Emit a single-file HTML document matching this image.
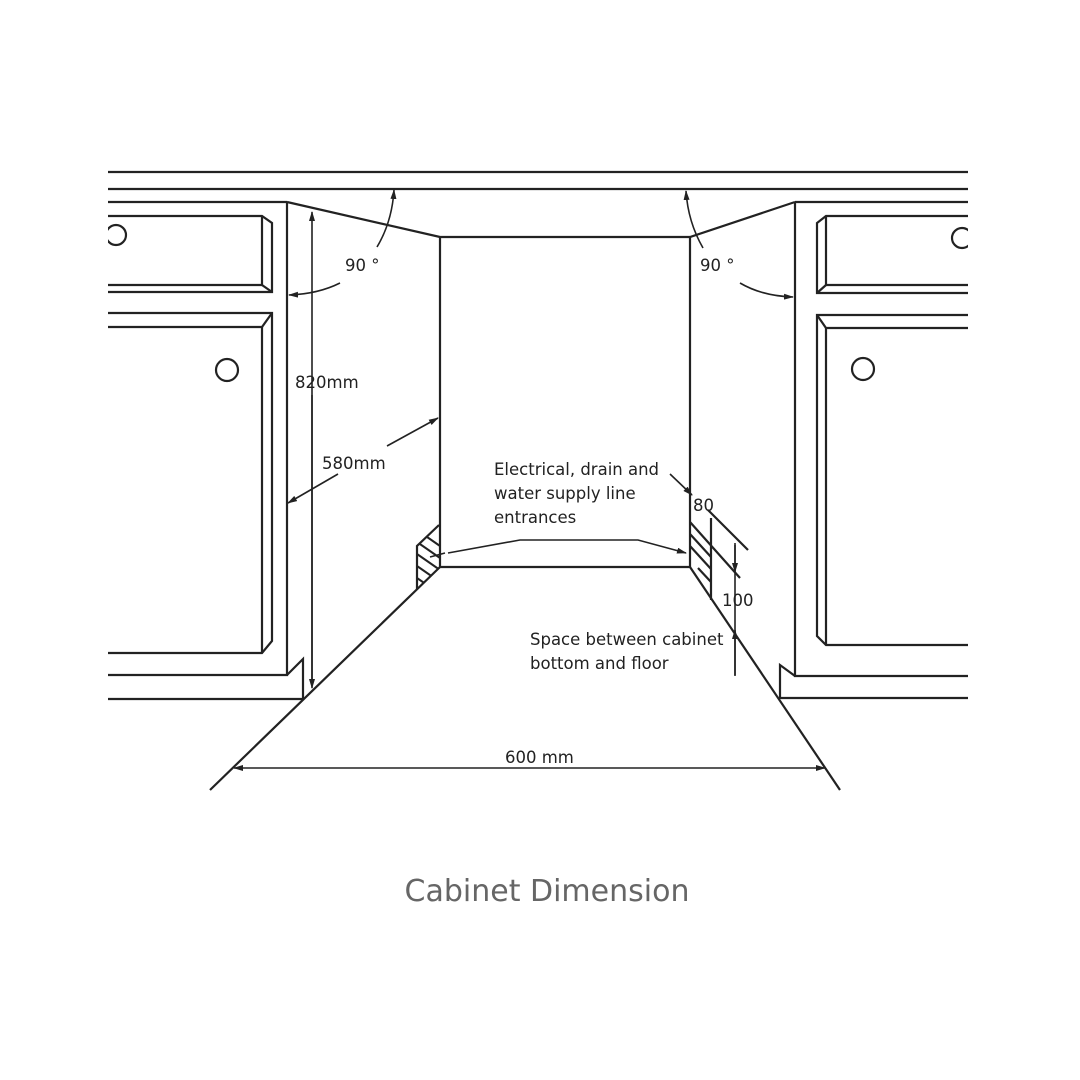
<!DOCTYPE html>
<html><head><meta charset="utf-8"><style>
html,body{margin:0;padding:0;background:#fff;}
svg{display:block}
text{font-family:"DejaVu Sans","Liberation Sans",sans-serif;fill:#222;}
</style></head><body>
<svg width="1080" height="1080" viewBox="0 0 1080 1080" xmlns="http://www.w3.org/2000/svg">
<defs>
<marker id="a" markerWidth="10" markerHeight="6" refX="9" refY="3" orient="auto" markerUnits="userSpaceOnUse"><path d="M0,0 L10,3 L0,6 z" fill="#222"/></marker>
<clipPath id="page"><rect x="108" y="0" width="860" height="1080"/></clipPath>
<clipPath id="hl"><polygon points="439,525 417,546 417,589 440,567"/></clipPath>
</defs>
<g stroke="#222" stroke-width="2.2" fill="none" stroke-linejoin="miter" clip-path="url(#page)">
<line x1="108" y1="172" x2="968" y2="172"/>
<line x1="108" y1="189" x2="968" y2="189"/>
<line x1="108" y1="202" x2="287" y2="202"/>
<line x1="795" y1="202" x2="968" y2="202"/>
<polyline points="287,202 287,675 108,675"/>
<polyline points="287,675 303,659 303,699 108,699"/>
<polyline points="795,202 795,676 968,676"/>
<polyline points="795,676 780,665 780,698 968,698"/>
<polyline points="287,202 440,237 690,237 795,202"/>
<line x1="440" y1="237" x2="440" y2="567"/>
<line x1="690" y1="237" x2="690" y2="567"/>
<line x1="440" y1="567" x2="690" y2="567"/>
<line x1="440" y1="567" x2="210" y2="790"/>
<line x1="690" y1="567" x2="840" y2="790"/>
<polyline points="108,216 262,216 272,223 272,292 108,292"/>
<polyline points="262,216 262,285 108,285"/>
<line x1="262" y1="285" x2="272" y2="292"/>
<circle cx="116" cy="235" r="10"/>
<polyline points="108,313 272,313 272,641 262,653 108,653"/>
<polyline points="272,313 262,327 108,327"/>
<line x1="262" y1="327" x2="262" y2="653"/>
<circle cx="227" cy="370" r="11"/>
<polyline points="968,216 826,216 817,223 817,293 968,293"/>
<polyline points="826,216 826,285 968,285"/>
<line x1="826" y1="285" x2="817" y2="293"/>
<circle cx="962" cy="238" r="10"/>
<polyline points="968,315 817,315 817,636 826,645 968,645"/>
<polyline points="817,315 826,328 968,328"/>
<line x1="826" y1="328" x2="826" y2="645"/>
<circle cx="863" cy="369" r="11"/>
<polyline points="439,525 417,546 417,589"/>
<g clip-path="url(#hl)" stroke-width="2">
<line x1="417" y1="530" x2="440" y2="546"/>
<line x1="417" y1="542" x2="440" y2="558"/>
<line x1="417" y1="554" x2="440" y2="570"/>
<line x1="417" y1="566" x2="440" y2="582"/>
<line x1="417" y1="578" x2="440" y2="594"/>
</g>
<line x1="690" y1="522" x2="740" y2="578"/>
<line x1="711" y1="518" x2="711" y2="600"/>
<line x1="690" y1="534" x2="711" y2="557"/>
<line x1="690" y1="546" x2="711" y2="569"/>
<line x1="698" y1="568" x2="711" y2="582"/>
<line x1="708" y1="510" x2="748" y2="550"/>
</g>
<g stroke="#222" stroke-width="1.6" fill="none">
<line x1="312" y1="680" x2="312" y2="212" marker-end="url(#a)"/>
<line x1="312" y1="395" x2="312" y2="688" marker-end="url(#a)"/>
<line x1="387" y1="446" x2="438" y2="418" marker-end="url(#a)"/>
<line x1="338" y1="474" x2="288" y2="503" marker-end="url(#a)"/>
<path d="M377,247 Q392,222 394,190" marker-end="url(#a)"/>
<path d="M340,283 Q318,294 289,295" marker-end="url(#a)"/>
<path d="M703,248 Q688,222 686,191" marker-end="url(#a)"/>
<path d="M740,283 Q762,296 793,297" marker-end="url(#a)"/>
<path d="M448,553 L520,540 L638,540 L686,553" marker-end="url(#a)"/>
<line x1="445" y1="553" x2="430" y2="557"/>
<line x1="670" y1="474" x2="692" y2="495" marker-end="url(#a)"/>
<line x1="735" y1="543" x2="735" y2="676"/>
<line x1="735" y1="545" x2="735" y2="572" marker-end="url(#a)"/>
<line x1="735" y1="675" x2="735" y2="630" marker-end="url(#a)"/>
<line x1="530" y1="768" x2="234" y2="768" marker-end="url(#a)"/>
<line x1="530" y1="768" x2="825" y2="768" marker-end="url(#a)"/>
</g>
<g font-size="16.5">
<text x="295" y="388">820mm</text>
<text x="322" y="469">580mm</text>
<text x="345" y="271">90 °</text>
<text x="700" y="271">90 °</text>
<text x="494" y="475">Electrical, drain and</text>
<text x="494" y="499">water supply line</text>
<text x="494" y="523">entrances</text>
<text x="693" y="511">80</text>
<text x="722" y="606">100</text>
<text x="530" y="645">Space between cabinet</text>
<text x="530" y="669">bottom and floor</text>
<text x="505" y="763">600 mm</text>
</g>
<text x="547" y="901" font-family="Liberation Sans,sans-serif" font-size="30" text-anchor="middle" style="fill:#666">Cabinet Dimension</text>
</svg>
</body></html>
